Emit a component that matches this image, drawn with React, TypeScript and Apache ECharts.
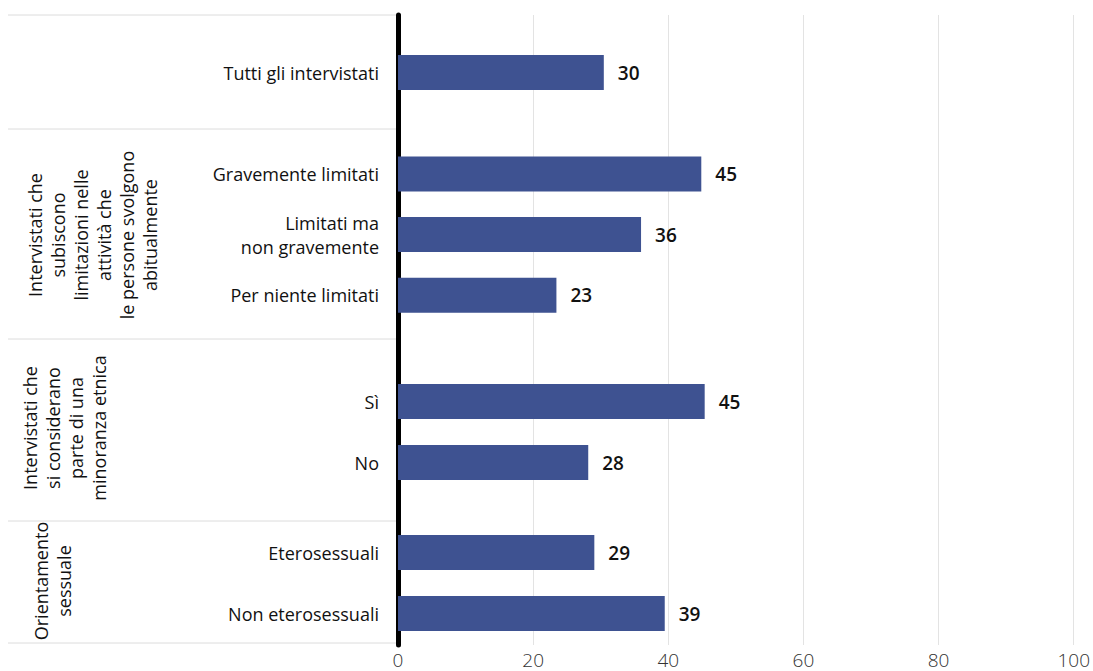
import React, { useEffect, useRef } from "react";
import * as echarts from "echarts";

const group1Cats = ["Tutti gli intervistati"];
const group1Values = [30.4];
const group2Cats = ["Gravemente limitati", "Limitati ma\nnon gravemente", "Per niente limitati"];
const group2Values = [44.8, 35.9, 23.4];
const group3Cats = ["Sì", "No"];
const group3Values = [45.3, 28.1];
const group4Cats = ["Eterosessuali", "Non eterosessuali"];
const group4Values = [29.0, 39.4];
const groupTitles = [
  "",
  "Intervistati che\nsubiscono\nlimitazioni nelle\nattività che\nle persone svolgono\nabitualmente",
  "Intervistati che\nsi considerano\nparte di una\nminoranza etnica",
  "Orientamento\nsessuale",
];
const xMin = 0;
const xMax = 100;
const xInterval = 20;

const FONT = "'Open Sans', 'Noto Sans', sans-serif";
const BAR_COLOR = "#3e5291";

export default function App() {
  const ref = useRef<HTMLDivElement>(null);
  useEffect(() => {
    if (!ref.current) return;
    const chart = echarts.init(ref.current, undefined, { renderer: "svg" });

    const groups = [
      { cats: group1Cats, vals: group1Values, top: 42, height: 61 },
      { cats: group2Cats, vals: group2Values, top: 143.6, height: 182 },
      { cats: group3Cats, vals: group3Values, top: 371, height: 122 },
      { cats: group4Cats, vals: group4Values, top: 522, height: 122 },
    ];
    const left = 398;
    const right = 18;

    const grid: any[] = [{ left, right, top: 15, height: 630 }];
    const xAxis: any[] = [
      {
        gridIndex: 0,
        type: "value",
        min: xMin,
        max: xMax,
        interval: xInterval,
        axisLine: { show: false },
        axisTick: { show: false },
        axisLabel: { fontSize: 19, fontFamily: FONT, fontWeight: 300, color: "#333", margin: 5 },
        splitLine: { show: true, lineStyle: { color: "#e3e3e3", width: 1 } },
      },
    ];
    const yAxis: any[] = [
      {
        gridIndex: 0,
        type: "value",
        min: 0,
        max: 1,
        axisLine: { show: true, lineStyle: { color: "#000", width: 5 } },
        axisTick: { show: false },
        axisLabel: { show: false },
        splitLine: { show: false },
      },
    ];
    const series: any[] = [];

    groups.forEach((g, i) => {
      const gi = i + 1;
      grid.push({ left, right, top: g.top, height: g.height });
      xAxis.push({ gridIndex: gi, type: "value", min: xMin, max: xMax, show: false });
      yAxis.push({
        gridIndex: gi,
        type: "category",
        inverse: true,
        data: g.cats,
        axisLine: { show: false },
        axisTick: { show: false },
        axisLabel: { fontSize: 18, fontFamily: FONT, color: "#111", margin: 19, lineHeight: 24, align: "right" },
        splitLine: { show: false },
      });
      series.push({
        type: "bar",
        xAxisIndex: gi,
        yAxisIndex: gi,
        data: g.vals,
        barWidth: 35,
        itemStyle: { color: BAR_COLOR },
        label: {
          show: true,
          position: "right",
          distance: 14,
          fontSize: 19,
          fontFamily: FONT,
          fontWeight: 600,
          color: "#111",
          formatter: (p: any) => String(Math.round(p.value)),
        },
      });
    });

    const sepYs = [15, 129, 339, 521, 643];
    const graphic: any[] = sepYs.map((y) => ({
      type: "line",
      shape: { x1: 8, y1: y, x2: 396, y2: y },
      style: { stroke: "#dcdcdc", lineWidth: 1 },
      silent: true,
    }));
    const titlePos = [
      null,
      { x: 23, y: 235 },
      { x: 18, y: 428 },
      { x: 29, y: 581 },
    ];
    groupTitles.forEach((t, i) => {
      const p = titlePos[i];
      if (!t || !p) return;
      graphic.push({
        type: "text",
        x: p.x,
        y: p.y,
        rotation: Math.PI / 2,
        style: {
          text: t,
          font: `18px ${FONT}`,
          fill: "#111",
          align: "center",
          verticalAlign: "top",
          textAlign: "center",
          textVerticalAlign: "top",
          lineHeight: 23,
        },
        silent: true,
      });
    });

    chart.setOption({
      animation: false,
      backgroundColor: "#fff",
      grid,
      xAxis,
      yAxis,
      series,
      graphic,
    });
    return () => chart.dispose();
  }, []);
  return (
    <div
      ref={ref}
      style={{ position: "fixed", left: 0, top: 0, width: 1093, height: 671 }}
    />
  );
}
